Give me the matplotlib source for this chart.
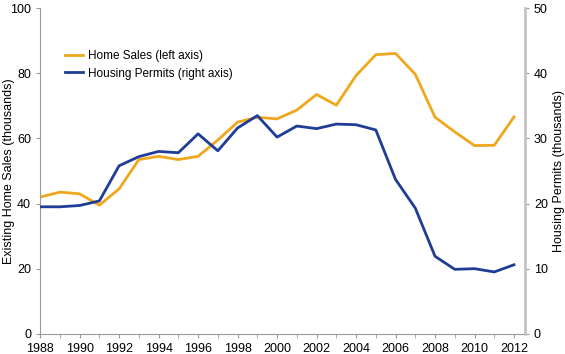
import matplotlib
matplotlib.use("Agg")
import matplotlib.pyplot as plt
from matplotlib.ticker import MultipleLocator

plt.rcParams["font.family"] = ["Liberation Sans", "DejaVu Sans"]
plt.rcParams["font.size"] = 9

years = list(range(1988, 2013))
home_sales = [42.0, 43.5, 43.0, 39.5, 44.5, 53.5, 54.5, 53.5, 54.5, 59.5, 65.0, 66.5, 66.0,
              68.7, 73.5, 70.2, 79.3, 85.7, 86.1, 79.7, 66.5, 62.0, 57.8, 57.9, 66.6]
permits = [19.5, 19.5, 19.7, 20.4, 25.8, 27.2, 28.0, 27.8, 30.7, 28.1, 31.6, 33.5, 30.2,
           31.9, 31.5, 32.2, 32.1, 31.3, 23.7, 19.3, 11.9, 9.9, 10.0, 9.5, 10.6]

orange = "#F0A71E"
blue = "#1F3C96"
gray = "#9a9a9a"

fig, ax = plt.subplots(figsize=(5.65, 3.54), dpi=100)
fig.subplots_adjust(left=0.071, right=0.929, top=0.977, bottom=0.057)
ax2 = ax.twinx()

l1, = ax.plot(years, home_sales, color=orange, lw=2, label="Home Sales (left axis)")
l2, = ax2.plot(years, permits, color=blue, lw=2, label="Housing Permits (right axis)")

ax.set_xlim(1988, 2012.55)
ax.set_ylim(0, 100)
ax2.set_ylim(0, 50)
ax.set_xticks(range(1988, 2013, 2))
ax.xaxis.set_minor_locator(MultipleLocator(1))
ax.set_yticks(range(0, 101, 20))
ax2.set_yticks(range(0, 51, 10))

ax.set_ylabel("Existing Home Sales (thousands)")
ax.yaxis.set_label_coords(-0.052, 0.5)
ax2.set_ylabel("Housing Permits (thousands)")
ax2.yaxis.set_label_coords(1.058, 0.5)

for a in (ax, ax2):
    a.spines["top"].set_visible(False)
ax.spines["right"].set_visible(False)
ax2.spines["left"].set_visible(False)
ax2.spines["bottom"].set_visible(False)
ax.spines["left"].set_color(gray)
ax.spines["bottom"].set_color(gray)
ax2.spines["right"].set_color("#c4c4c4")
ax2.spines["right"].set_linewidth(2)
ax.tick_params(axis="both", which="both", color=gray, length=3)
ax.tick_params(axis="x", which="minor", length=3)
ax2.tick_params(axis="y", color=gray, length=3)

ax.legend(handles=[l1, l2], loc="upper left", bbox_to_anchor=(0.03, 0.905),
          frameon=False, handlelength=1.5, handletextpad=0.45, labelspacing=0.5,
          fontsize=8.5)

fig.savefig("out.png", dpi=100, facecolor="white")
